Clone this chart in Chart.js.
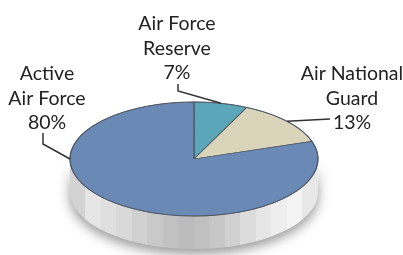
<!DOCTYPE html>
<html>
<head>
<meta charset="utf-8">
<script src="https://cdn.jsdelivr.net/npm/chart.js@4.4.0/dist/chart.umd.min.js"></script>
<style>
  html, body { margin: 0; padding: 0; background: #fff; }
</style>
</head>
<body>
<canvas id="pieChart" width="403" height="255"></canvas>
<script>
// data
const categories = ["Air Force Reserve", "Air National Guard", "Active Air Force"];
const shares = [7, 13, 80];
const labelLines = [
  ["Air Force", "Reserve", "7%"],
  ["Air National", "Guard", "13%"],
  ["Active", "Air Force", "80%"]
];
const sliceColors = ["#5ca6b9", "#dad5ba", "#6a89b4"];

// look of the fake 3d
const TILT = 0.46;
const DEPTH = 33;
const sideGrays = ["#d3d3d3", "#e6e6e6", "#dfdfdf", "#d9d9d9", "#d1d1d1", "#c9c9c9", "#c2c2c2",
  "#bcbcbc", "#c0c0c0", "#c7c7c7", "#d1d1d1", "#dcdcdc", "#e6e6e6", "#eeeeee", "#f3f3f3", "#e8e8e8"];

// where each label sits, and the elbow of its leader line
const labelLayout = [
  { x: 177, y: 30, elbow: [[178, 84], [178, 91]] },
  { x: 352, y: 80, elbow: [[330, 119]] },
  { x: 47, y: 80, elbow: [[43, 133], [43, 144]], angle: Math.PI }
];

const tiltPlugin = {
  id: "tilt",
  beforeDatasetsDraw(chart) {
    const ctx = chart.ctx;
    const arc = chart.getDatasetMeta(0).data[0];
    const { x, y, outerRadius: r } = arc.getProps(["x", "y", "outerRadius"], true);
    const ry = r * TILT;

    // the side wall
    const grad = ctx.createLinearGradient(x - r, 0, x + r, 0);
    const n = sideGrays.length;
    sideGrays.forEach((c, i) => {
      grad.addColorStop(i / n, c);
      grad.addColorStop(Math.min((i + 1) / n - 0.001, 1), c);
    });
    ctx.save();
    ctx.beginPath();
    ctx.moveTo(x + r, y);
    ctx.lineTo(x + r, y + DEPTH);
    ctx.ellipse(x, y + DEPTH, r, ry, 0, 0, Math.PI);
    ctx.lineTo(x - r, y);
    ctx.ellipse(x, y, r, ry, 0, Math.PI, 0, true);
    ctx.closePath();
    ctx.shadowColor = "rgba(0,0,0,0.4)";
    ctx.shadowBlur = 12;
    ctx.shadowOffsetY = 5;
    ctx.fillStyle = grad;
    ctx.fill();
    ctx.restore();

    // squash the pie into an ellipse
    ctx.save();
    ctx.translate(0, y);
    ctx.scale(1, TILT);
    ctx.translate(0, -y);
  },
  afterDatasetsDraw(chart) {
    const ctx = chart.ctx;
    ctx.restore();
    const arcs = chart.getDatasetMeta(0).data;
    const { x, y, outerRadius: r } = arcs[0].getProps(["x", "y", "outerRadius"], true);
    const ry = r * TILT;

    ctx.save();
    ctx.beginPath();
    ctx.ellipse(x, y, r, ry, 0, 0, Math.PI * 2);
    ctx.strokeStyle = "#4e5866";
    ctx.lineWidth = 1;
    ctx.stroke();

    ctx.font = "19.5px Lato";
    ctx.fillStyle = "#222";
    ctx.textAlign = "center";
    ctx.textBaseline = "alphabetic";
    labelLayout.forEach((lay, i) => {
      labelLines[i].forEach((t, j) => ctx.fillText(t, lay.x, lay.y + j * 24.5));
      const a = lay.angle !== undefined ? lay.angle
        : (arcs[i].startAngle + arcs[i].endAngle) / 2;
      ctx.beginPath();
      lay.elbow.forEach((p, k) => (k ? ctx.lineTo(p[0], p[1]) : ctx.moveTo(p[0], p[1])));
      ctx.lineTo(x + r * Math.cos(a), y + ry * Math.sin(a));
      ctx.strokeStyle = "#333";
      ctx.lineWidth = 1.5;
      ctx.stroke();
    });
    ctx.restore();
  }
};

new Chart(document.getElementById("pieChart"), {
  type: "pie",
  data: {
    labels: categories,
    datasets: [{
      data: shares,
      backgroundColor: sliceColors,
      borderColor: "#4f5762",
      borderWidth: 1.2,
      radius: 124
    }]
  },
  options: {
    responsive: false,
    animation: false,
    events: [],
    layout: { padding: { top: 63, bottom: 0, left: 0, right: 15 } },
    plugins: {
      legend: { display: false },
      tooltip: { enabled: false }
    }
  },
  plugins: [tiltPlugin]
});
</script>
</body>
</html>
